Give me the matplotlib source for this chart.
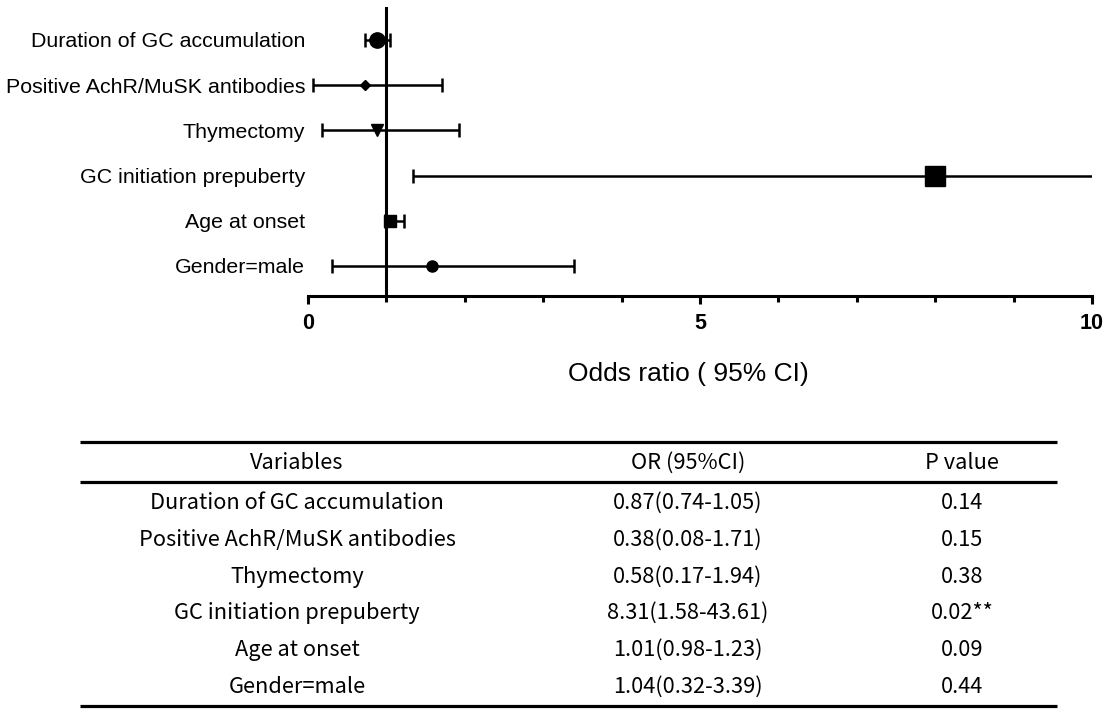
import numpy as np
import matplotlib
matplotlib.use('Agg')
import matplotlib.pyplot as plt

""" Data read off the figure """

variables = ['Duration of GC accumulation', 'Positive AchR/MuSK antibodies', 'Thymectomy',
             'GC initiation prepuberty', 'Age at onset', 'Gender=male']
# plotted estimates and 95% CI
odds = [0.88, 0.73, 0.88, 8.0, 1.05, 1.58]
ci_low = [0.73, 0.07, 0.18, 1.34, 0.98, 0.31]
ci_high = [1.05, 1.71, 1.93, 43.61, 1.22, 3.39]
markers = ['o', 'D', 'v', 's', 's', 'o']
msizes = [11, 5, 8, 14, 9, 8]

# table text
or_text = ['0.87(0.74-1.05)', '0.38(0.08-1.71)', '0.58(0.17-1.94)',
           '8.31(1.58-43.61)', '1.01(0.98-1.23)', '1.04(0.32-3.39)']
p_text = ['0.14', '0.15', '0.38', '0.02**', '0.09', '0.44']
headers = ['Variables', 'OR (95%CI)', 'P value']

W, H = 1108, 715
fig = plt.figure(figsize=(W / 100, H / 100), dpi=100)

""" Forest plot """

ax = fig.add_axes([308 / W, (H - 296) / H, 784 / W, 289 / H])
rows = np.arange(len(variables), 0, -1)
lw = 1.8
for i in range(len(variables)):
    err = [[odds[i] - ci_low[i]], [ci_high[i] - odds[i]]]
    ax.errorbar(odds[i], rows[i], xerr=err, fmt=markers[i], ms=msizes[i],
                color='black', ecolor='black', elinewidth=lw, capsize=5,
                capthick=lw, zorder=3)
ax.axvline(1, color='black', lw=2.2)

ax.set_xlim(0, 10)
ax.set_ylim(0.336, 6.73)
ax.spines['top'].set_visible(False)
ax.spines['right'].set_visible(False)
ax.spines['left'].set_visible(False)
ax.spines['bottom'].set_linewidth(2.2)

ax.set_yticks(rows)
ax.set_yticklabels(variables, fontsize=15.4, family='Liberation Sans')
ax.tick_params(axis='y', length=0, pad=2)

ax.set_xticks([0, 5, 10])
ax.set_xticks([1, 2, 3, 4, 6, 7, 8, 9], minor=True)
ax.set_xticklabels(['0', '5', '10'], fontsize=15.5, fontweight='bold', family='Liberation Sans')
ax.tick_params(axis='x', which='major', length=6, width=2.2, pad=6)
ax.tick_params(axis='x', which='minor', length=4, width=2.2)

ax.set_xlabel('Odds ratio ( 95% CI)', fontsize=19, family='Liberation Sans')
ax.xaxis.set_label_coords((688 - 308) / 784, -0.228)

""" Table """

tab = fig.add_axes([0, 0, 1, 1])
tab.set_xlim(0, W)
tab.set_ylim(H, 0)
tab.axis('off')

col_x = [297, 688, 962]
tfont = dict(fontsize=15.7, family=['Noto Sans CJK SC', 'DejaVu Sans'], ha='center', va='center')
for x, h in zip(col_x, headers):
    tab.text(x, 463, h, **tfont)

row_y = [503, 540, 577, 613, 650, 687]
for i in range(len(variables)):
    tab.text(col_x[0], row_y[i], variables[i], **tfont)
    tab.text(col_x[1], row_y[i], or_text[i], **tfont)
    tab.text(col_x[2], row_y[i], p_text[i], **tfont)

for y in [442, 482, 706]:
    tab.plot([80, 1057], [y, y], color='black', lw=2.3, solid_capstyle='butt')

plt.savefig('out.png', dpi=100)
